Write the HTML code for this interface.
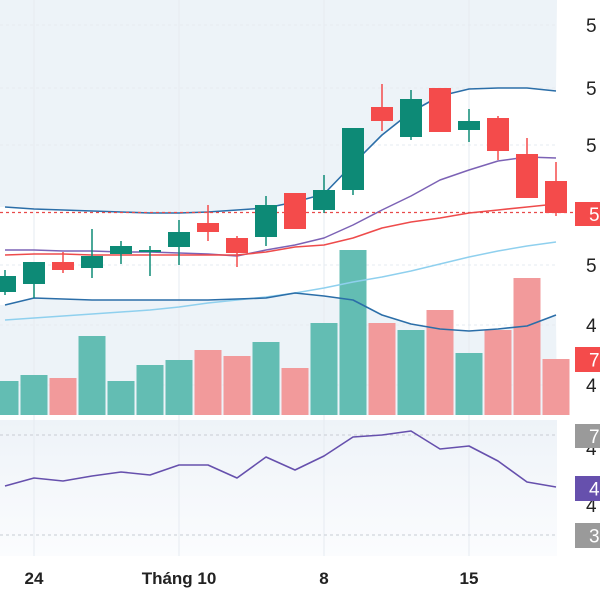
<!DOCTYPE html>
<html><head><meta charset="utf-8"><style>
html,body{margin:0;padding:0;background:#fff;width:600px;height:600px;overflow:hidden}
svg text{font-family:"Liberation Sans",sans-serif}
</style></head><body>
<svg id="c" width="600" height="600" xmlns="http://www.w3.org/2000/svg"></svg>
<script>
const dates=["","24","","","","","Tháng 10","","","","","8","","","","15","","","",""];
const tickIdx=[1,6,11,16];
const tickLabels=["24","Tháng 10","8","15"];
const opens=[30.8,31.6,33.8,33.2,34.6,34.8,35.3,37.7,36.2,36.3,40.7,39.0,41.0,49.3,46.3,51.2,47.0,48.2,44.6,41.9];
const closes=[32.4,33.8,33.0,34.4,35.4,35.0,36.8,36.8,34.7,39.5,37.1,41.0,47.2,47.9,50.1,46.8,47.9,44.9,40.2,38.7];
const highs=[33.0,33.8,34.8,37.1,35.9,35.4,38.0,39.5,36.4,40.4,40.7,42.5,47.2,51.6,51.0,51.2,49.1,48.4,46.2,43.8];
const lows=[30.5,30.2,32.7,32.2,33.6,32.4,33.5,35.9,33.3,35.4,37.1,38.7,40.5,46.9,46.0,46.8,45.8,44.0,40.2,38.4];
const upperBand=[39.3,39.1,39.0,38.9,38.8,38.7,38.7,38.8,39.0,39.2,39.8,40.6,43.6,46.5,48.8,50.4,51.1,51.2,51.2,50.9];
const lowerBand=[29.5,30.2,30.1,30.0,30.0,30.0,30.0,30.0,30.1,30.2,30.7,30.4,30.0,28.5,27.6,27.1,26.9,27.1,27.4,28.5];
const midBand=[35.0,35.0,34.9,34.9,34.8,34.8,34.7,34.6,34.4,35.0,35.5,36.2,37.5,39.0,40.4,42.0,43.0,43.9,44.3,44.2];
const maRed=[34.5,34.6,34.6,34.5,34.5,34.5,34.5,34.5,34.5,34.8,35.3,35.5,36.2,37.2,37.8,38.2,38.7,39.0,39.3,39.6];
const maLight=[28.0,28.2,28.4,28.6,28.8,29.0,29.3,29.7,30.0,30.3,30.7,31.2,31.8,32.3,32.9,33.6,34.3,34.9,35.4,35.8];
const volumes=[17,20,18.5,39.5,17,25,27.5,32.5,29.5,36.5,23.5,46,82.5,46,42.5,52.5,31,42.5,68.5,28];
const rsi=[49.6,52.8,51.6,53.6,55.2,54,58,58,52.8,61.2,56,61.6,69.2,70,71.6,64.4,65.6,59.6,51.2,49.2];
const lastPrice=38.7;

const svg=document.getElementById('c');
const NS="http://www.w3.org/2000/svg";
const PR=557;
function X(i){return 5+29*i;}
function Y(v){return 600-v*10;}
function VY(v){return 415-v*2;}
function RY(r){return 435+(70-r)*2.5;}
function mk(tag,attrs,parent){const e=document.createElementNS(NS,tag);for(const k in attrs)e.setAttribute(k,attrs[k]);(parent||svg).appendChild(e);return e;}

// RSI background
const defs=mk('defs',{});
const lg=mk('linearGradient',{id:'rg',x1:0,y1:0,x2:0,y2:1},defs);
mk('stop',{offset:0,'stop-color':'#eef3f8'},lg);mk('stop',{offset:1,'stop-color':'#fbfcfe'},lg);
let e=mk('rect',{x:0,y:420,width:PR,height:136,fill:'url(#rg)'});


// band fills
let up='M0,0 L'+PR+',0 '; for(let i=19;i>=0;i--)up+='L'+X(i)+','+Y(upperBand[i])+' '; up+='L0,'+Y(upperBand[0])+' Z';
e=mk('path',{d:up,fill:'#edf3f8'});

let lo='M0,415 L'+PR+',415 '; for(let i=19;i>=0;i--)lo+='L'+X(i)+','+Y(lowerBand[i])+' '; lo+='L0,'+Y(lowerBand[0])+' Z';
e=mk('path',{d:lo,fill:'#edf3f8'});


// grid
tickIdx.forEach(i=>{mk('line',{x1:X(i),x2:X(i),y1:0,y2:556,stroke:'#e6ebf1','stroke-width':1});});
[25,88,145,265,325,385].forEach(y=>{mk('line',{x1:0,x2:PR,y1:y,y2:y,stroke:'#e6ebf1','stroke-dasharray':'3,3'});});

// volume
volumes.forEach((v,i)=>{const up=closes[i]>=opens[i];
 const r=mk('rect',{x:X(i)-13.5,y:VY(v),width:27,height:415-VY(v),fill:up?'#63bdb3':'#f29a9b'});
 });

function line(arr,color,w,name,f){let d='';arr.forEach((v,i)=>{d+=(i?'L':'M')+X(i)+','+(f||Y)(v)+' ';});
 const p=mk('path',{d:d,fill:'none',stroke:color,'stroke-width':w,'stroke-linejoin':'round'});
 }
line(maLight,'#8fd0ee',1.5,'ma-light-line');
line(upperBand,'#2b6ea8',1.6,'upper-band-line');
line(lowerBand,'#2b6ea8',1.6,'lower-band-line');
line(midBand,'#7c62b5',1.5,'mid-band-line');
line(maRed,'#ee4b4b',1.6,'ma-red-line');

// last price dashed line
e=mk('line',{x1:0,x2:PR+18,y1:Y(lastPrice)-0.5,y2:Y(lastPrice)-0.5,stroke:'#e84a4a','stroke-width':1.3,'stroke-dasharray':'3,3'});


// candles
opens.forEach((o,i)=>{const c=closes[i];const col=c>=o?'#0d8a76':'#f44b4b';
 const g=mk('g',{});
 mk('line',{x1:X(i),x2:X(i),y1:Y(highs[i]),y2:Y(lows[i]),stroke:col,'stroke-width':1.5},g);
 const t=Y(Math.max(o,c)),b=Y(Math.min(o,c));
 mk('rect',{x:X(i)-11,y:t,width:22,height:Math.max(2,b-t),fill:col},g);});

// RSI
[435,535].forEach(y=>{mk('line',{x1:0,x2:PR,y1:y,y2:y,stroke:'#c8ccd4','stroke-dasharray':'3,3'});});
line(rsi,'#6650ad',1.6,'rsi-line',RY);

// right axis labels
[[25,'5'],[88,'5'],[145,'5'],[265,'5'],[325,'4'],[385,'4'],[448,'4'],[505,'4']].forEach(([y,t])=>{
 const tx=mk('text',{x:586,y:y+7,'font-size':19,fill:'#222'});tx.textContent=t;
 });
function box(y,h,col,t,name){const g=mk('g',{});
 mk('rect',{x:575,y:y,width:30,height:h,fill:col},g);const tx=mk('text',{x:589,y:y+h/2+7,'font-size':19,fill:'#fff'},g);tx.textContent=t;}
box(202,24,'#f44b4b','5','last-price-box');
box(347,25,'#f44b4b','7','volume-box');
box(424,24,'#9a9a9a','7','rsi-upper-box');
box(476,25,'#6650ad','4','rsi-value-box');
box(523,25,'#9a9a9a','3','rsi-lower-box');

// x labels
tickIdx.forEach((i,k)=>{const tx=mk('text',{x:X(i),y:584,'font-size':17,'font-weight':'bold','text-anchor':'middle',fill:'#222'});
 tx.textContent=tickLabels[k];});
</script>
</body></html>
